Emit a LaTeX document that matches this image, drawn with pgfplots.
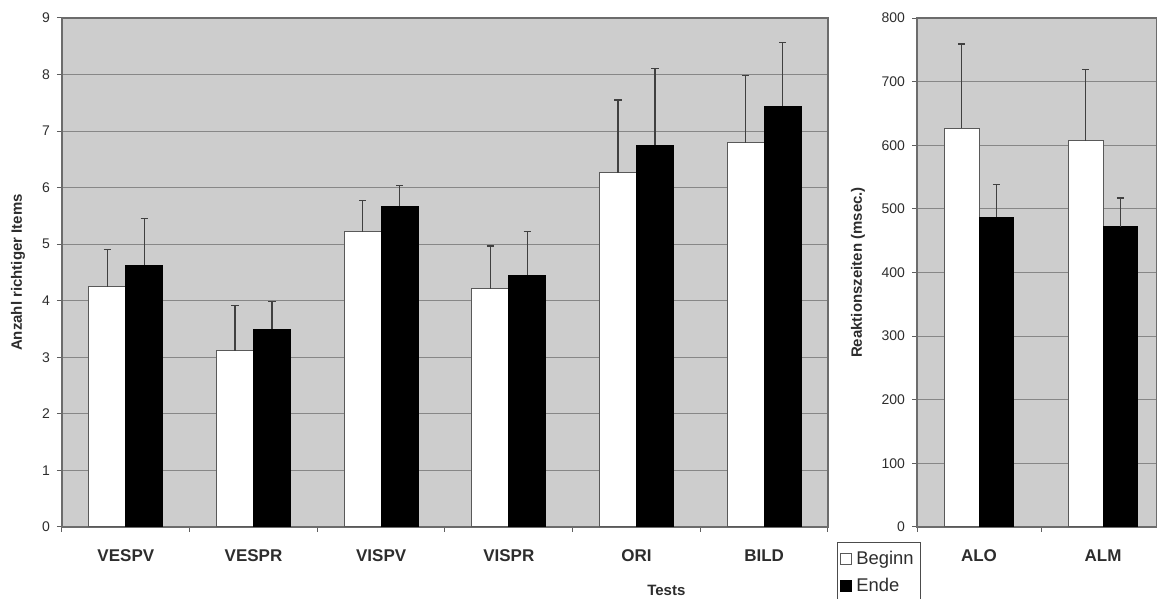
\documentclass[border=0pt]{standalone}
\usepackage{pgfplots}
\pgfplotsset{compat=1.18}
\usepackage{pgfplotstable}
\usepackage{fontspec}
\setmainfont{Liberation Sans}

\definecolor{bgray}{RGB}{205,205,205}
\definecolor{gridc}{RGB}{135,135,135}
\definecolor{txt}{RGB}{45,45,45}

% category, Beginn, +err, Ende, +err
\pgfplotstableread{
x  b     be    e     ee
0  4.25  0.65  4.63  0.82
1  3.12  0.80  3.50  0.49
2  5.22  0.55  5.67  0.37
3  4.21  0.76  4.45  0.77
4  6.26  1.29  6.75  1.35
5  6.79  1.19  7.44  1.13
}\tests
\pgfplotstableread{
x  b    be   e    ee
0  627  132  487  51
1  607  112  472  45
}\zeiten

\pgfplotsset{
  rk/.style={
    scale only axis,
    ybar,
    axis background/.style={fill=bgray},
    axis line style={draw=gridc!80!black, line width=0.6pt},
    ymajorgrids,
    grid style={draw=gridc, line width=0.6pt},
    tick align=outside,
    major tick length=2.5pt,
    minor tick length=2.5pt,
    tick style={draw=gridc!70!black, line width=0.5pt},
    major x tick style={draw=none},
    xtick pos=bottom, ytick pos=left,
    /pgf/number format/assume math mode=true,
    yticklabel style={font=\fontsize{7}{8}\selectfont, text=txt},
    xticklabel style={font=\fontsize{8.5}{10}\selectfont\bfseries, text=txt, anchor=center, yshift=-12pt},
    label style={font=\fontsize{7.5}{9}\selectfont\bfseries, text=txt},
    error bars/y dir=plus,
    error bars/y explicit,
    error bars/error bar style={draw=black!75, line width=0.6pt},
    error bars/error mark options={rotate=90, draw=black!75, line width=0.6pt, mark size=1.8pt},
  },
  beg/.style={fill=white, draw=black!65, line width=0.5pt},
  end/.style={fill=black, draw=black, line width=0.5pt},
}

\begin{document}
\begin{tikzpicture}
\useasboundingbox (0,0) rectangle (578.5pt,299.5pt);

\begin{axis}[rk,
  at={(31pt,36pt)}, anchor=south west,
  width=383pt, height=254.5pt,
  xmin=-0.5, xmax=5.5, ymin=0, ymax=9,
  xtick={0,...,5},
  xticklabels={VESPV,VESPR,VISPV,VISPR,ORI,BILD},
  minor xtick={-0.5,0.5,...,5.5},
  ytick={0,...,9},
  bar width=0.29,
  ylabel={Anzahl richtiger Items},
  ylabel style={at={(axis description cs:-0.0574,0.5)}, anchor=center},
  xlabel={Tests},
  xlabel style={at={(axis description cs:0.789,-0.124)}, anchor=center},
]
\addplot[beg, bar shift=-0.145] table[x=x, y=b, y error plus=be] {\tests};
\addplot[end, bar shift=0.145] table[x=x, y=e, y error plus=ee] {\tests};
\end{axis}

\begin{axis}[rk,
  at={(458.5pt,36pt)}, anchor=south west,
  width=120pt, height=254.5pt,
  xmin=-0.5, xmax=1.435, ymin=0, ymax=800,
  xtick={0,1},
  xticklabels={ALO,ALM},
  minor xtick={-0.5,0.5},
  ytick={0,100,...,800},
  bar width=0.28,
  ylabel={Reaktionszeiten (msec.)},
  ylabel style={at={(axis description cs:-0.246,0.5)}, anchor=center},
  legend style={at={(axis description cs:0.017,-0.03)}, anchor=north east,
    draw=black!70, line width=0.5pt, fill=white,
    font=\fontsize{9.2}{11}\selectfont, text=txt,
    inner xsep=1.5pt, inner ysep=2pt, row sep=1.5pt,
    legend cell align=left},
  legend image code/.code={\draw[#1, error bars/draw error bar/.code={}] (0pt,-2.8pt) rectangle (5.6pt,2.8pt);},
]
\addplot[beg, bar shift=-0.14] table[x=x, y=b, y error plus=be] {\zeiten};
\addplot[end, bar shift=0.14] table[x=x, y=e, y error plus=ee] {\zeiten};
\legend{Beginn,Ende}
\end{axis}
\end{tikzpicture}
\end{document}
